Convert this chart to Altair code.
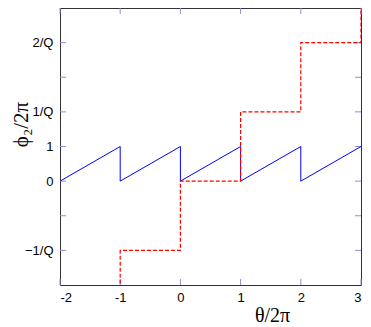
import altair as alt
import pandas as pd

# sawtooth (blue) and staircase (red) vertices
blue_x = [-2, -1, -1, 0, 0, 1, 1, 2, 2, 3]
blue_y = [0, 1, 0, 1, 0, 1, 0, 1, 0, 1]
red_x = [-1, -1, 0, 0, 1, 1, 2, 2, 3, 3]
red_y = [-4, -2, -2, 0, 0, 2, 2, 4, 4, 6]

x_tick_values = [-2, -1, 0, 1, 2, 3]
y_tick_values = [-2, -1, 0, 1, 2, 3, 4]
y_tick_labels = ["−1/Q", "", "0", "1", "1/Q", "", "2/Q"]

W, H = 301, 277
TICK = 6
TICK_COLOR = "#8c8ce0"

blue = pd.DataFrame({"x": blue_x, "y": blue_y, "i": list(range(len(blue_x)))})
red = pd.DataFrame({"x": red_x, "y": red_y, "i": list(range(len(red_x)))})
xt = pd.DataFrame({"x": x_tick_values})
yt = pd.DataFrame({"y": y_tick_values})

xs = alt.Scale(domain=[-2, 3], nice=False, zero=False)
ys = alt.Scale(domain=[-3, 5], nice=False, zero=False)

ylabel_expr = " : ".join(
    f"datum.value == {v} ? '{l}'" for v, l in zip(y_tick_values, y_tick_labels)
) + " : ''"

x_axis = alt.Axis(
    values=x_tick_values, labelExpr="'' + datum.value", title="θ/2π",
    ticks=False, domain=False, grid=False,
    labelFont="Liberation Sans", labelFontSize=13, labelColor="black", labelPadding=6,
    titleFont="Liberation Serif", titleFontSize=20, titleFontWeight="normal", titleColor="black",
    titleX=212, titleY=36, titleAlign="center", titleBaseline="alphabetic",
)
y_axis = alt.Axis(
    values=y_tick_values, labelExpr=ylabel_expr, title="ϕ₂/2π",
    ticks=False, domain=False, grid=False,
    labelFont="Liberation Sans", labelFontSize=13, labelColor="black", labelPadding=7,
    titleFont="Liberation Serif", titleFontSize=21, titleFontWeight="normal", titleColor="black",
    titleX=-33, titleY=116, titleAlign="center", titleBaseline="alphabetic", titleAngle=270,
)

X = alt.X("x:Q", scale=xs, axis=x_axis)
Y = alt.Y("y:Q", scale=ys, axis=y_axis)

blue_line = alt.Chart(blue).mark_line(color="#0000ff", strokeWidth=1, clip=True).encode(
    x=X, y=Y, order="i:Q"
)
red_line = alt.Chart(red).mark_line(
    color="#ff0000", strokeWidth=1.2, strokeDash=[4, 2], clip=True
).encode(x=X, y=Y, order="i:Q")

tick_bottom = alt.Chart(xt).mark_rule(color=TICK_COLOR, strokeWidth=1).encode(
    x=X, y=alt.value(H), y2=alt.value(H - TICK)
)
tick_top = alt.Chart(xt).mark_rule(color=TICK_COLOR, strokeWidth=1).encode(
    x=X, y=alt.value(0), y2=alt.value(TICK)
)
tick_left = alt.Chart(yt).mark_rule(color=TICK_COLOR, strokeWidth=1).encode(
    y=Y, x=alt.value(0), x2=alt.value(TICK)
)
tick_right = alt.Chart(yt).mark_rule(color=TICK_COLOR, strokeWidth=1).encode(
    y=Y, x=alt.value(W), x2=alt.value(W - TICK)
)

chart = alt.layer(
    tick_bottom, tick_top, tick_left, tick_right, blue_line, red_line
).properties(
    width=W, height=H,
    autosize=alt.AutoSizeParams(type="none"),
    padding={"left": 52, "top": 0, "right": 2, "bottom": 40},
    background="white",
).configure_view(stroke="#333333", strokeWidth=1)

chart.save("out.html", embed_options={"renderer": "svg", "actions": False})
